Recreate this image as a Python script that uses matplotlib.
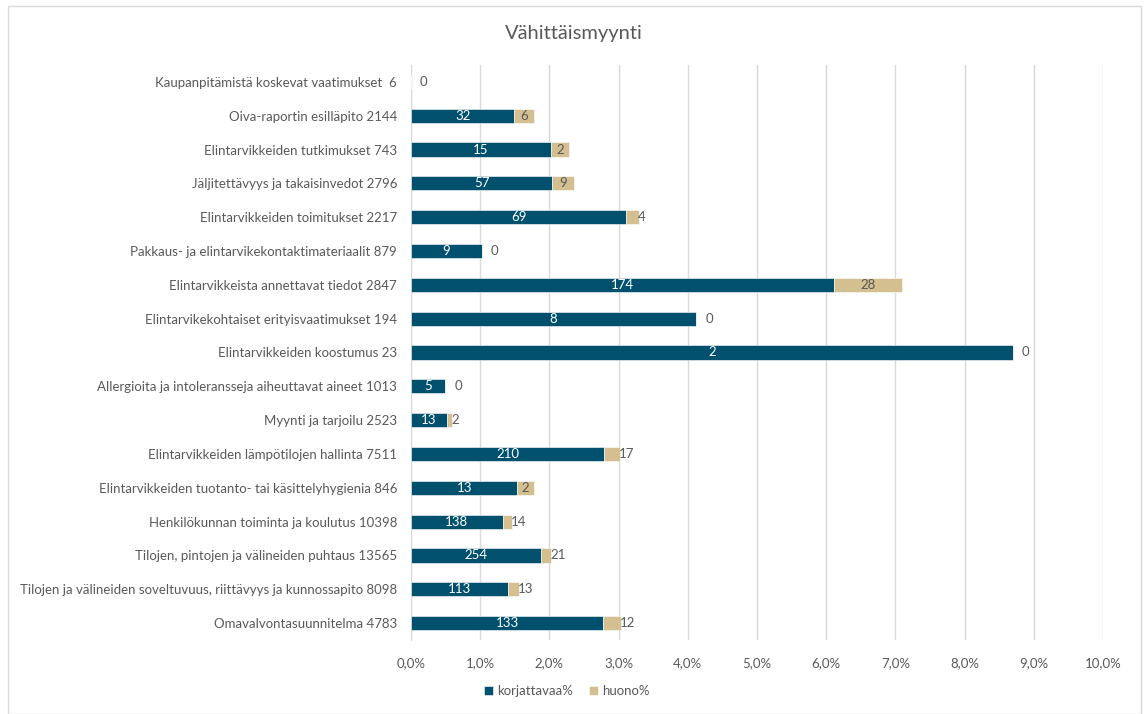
import matplotlib as mpl
mpl.use('Agg')
import matplotlib.pyplot as plt
import matplotlib.patches as patches
from matplotlib.ticker import FuncFormatter

#
#--- data: category name, number of inspections, counts per grade
#
categories = ['Kaupanpitämistä koskevat vaatimukset  6',
              'Oiva-raportin esilläpito 2144',
              'Elintarvikkeiden tutkimukset 743',
              'Jäljitettävyys ja takaisinvedot 2796',
              'Elintarvikkeiden toimitukset 2217',
              'Pakkaus- ja elintarvikekontaktimateriaalit 879',
              'Elintarvikkeista annettavat tiedot 2847',
              'Elintarvikekohtaiset erityisvaatimukset 194',
              'Elintarvikkeiden koostumus 23',
              'Allergioita ja intoleransseja aiheuttavat aineet 1013',
              'Myynti ja tarjoilu 2523',
              'Elintarvikkeiden lämpötilojen hallinta 7511',
              'Elintarvikkeiden tuotanto- tai käsittelyhygienia 846',
              'Henkilökunnan toiminta ja koulutus 10398',
              'Tilojen, pintojen ja välineiden puhtaus 13565',
              'Tilojen ja välineiden soveltuvuus, riittävyys ja kunnossapito 8098',
              'Omavalvontasuunnitelma 4783']
totals     = [6, 2144, 743, 2796, 2217, 879, 2847, 194, 23, 1013, 2523, 7511, 846, 10398, 13565, 8098, 4783]
korjattava = [0, 32, 15, 57, 69, 9, 174, 8, 2, 5, 13, 210, 13, 138, 254, 113, 133]
huono      = [None, 6, 2, 9, 4, 0, 28, 0, 0, 0, 2, 17, 2, 14, 21, 13, 12]

xticks = [0, 1, 2, 3, 4, 5, 6, 7, 8, 9, 10]

blue = '#00506E'
tan = '#D3BF8F'
gray = '#595959'
fnt = 'Lato'

kor_pct = [k / t * 100 for k, t in zip(korjattava, totals)]
huo_pct = [(h or 0) / t * 100 for h, t in zip(huono, totals)]

fig = plt.figure(figsize=(11.44, 7.14), dpi=100)
fig.patches.append(patches.Rectangle((8 / 1144, 0), 1133 / 1144, 1 - 6 / 714, transform=fig.transFigure,
                                     fill=False, edgecolor='#D9D9D9', lw=1))
ax = fig.add_axes([411 / 1144, 1 - 640 / 714, 692 / 1144, 575 / 714])

n = len(categories)
ypos = list(range(n))
h = 0.42
b1 = ax.barh(ypos, kor_pct, height=h, color=blue, edgecolor='white', lw=0.4, zorder=3)
b2 = ax.barh(ypos, huo_pct, left=kor_pct, height=h, color=tan, edgecolor='white', lw=0.4, zorder=3)

ax.set_xlim(0, 10)
ax.set_ylim(n - 0.5, -0.5)
px = 692 / 10.0   # pixels per percent

#
#--- data labels
#
for i in range(n):
    if kor_pct[i] > 0:
        ax.text(kor_pct[i] / 2, i, str(korjattava[i]), color='white', ha='center', va='center',
                fontsize=9.5, family=fnt, zorder=4)
        end = kor_pct[i] + huo_pct[i]
        lab = str(huono[i])
        if huono[i] == 0:
            ax.text(end + 9 / px, i, lab, color=gray, ha='left', va='center', fontsize=9.5, family=fnt, zorder=4)
        elif huo_pct[i] * px > 7 * len(lab) + 7:
            ax.text(kor_pct[i] + huo_pct[i] / 2, i, lab, color=gray, ha='center', va='center',
                    fontsize=9.5, family=fnt, zorder=4)
        else:
            ax.text(end - 1 / px, i, lab, color=gray, ha='left', va='center', fontsize=9.5, family=fnt, zorder=4)
    else:
        ax.text(9 / px, i, str(korjattava[i]), color=gray, ha='left', va='center', fontsize=9.5, family=fnt, zorder=4)

ax.set_yticks(ypos)
ax.set_yticklabels(categories, fontsize=9.5, color=gray, family=fnt)
ax.set_xticks(xticks)
ax.xaxis.set_major_formatter(FuncFormatter(lambda v, p: ('%.1f%%' % v).replace('.', ',')))
for lab in ax.get_xticklabels():
    lab.set_family(fnt)
ax.tick_params(axis='x', colors=gray, labelsize=9.5, length=0, pad=12)
ax.tick_params(axis='y', length=0, pad=10)

ax.grid(axis='x', color='#D9D9D9', lw=1, zorder=0)
for s in ['top', 'right', 'bottom']:
    ax.spines[s].set_visible(False)
ax.spines['left'].set_color('#D9D9D9')
ax.spines['left'].set_zorder(1)

fig.text(574 / 1144, 1 - 33 / 714, 'Vähittäismyynti', ha='center', va='center', fontsize=14.5, color=gray, family=fnt)

leg = fig.legend([b1, b2], ['korjattavaa%', 'huono%'], loc='center', bbox_to_anchor=(567 / 1144, 1 - 691 / 714),
                 ncol=2, frameon=False, handlelength=0.7, handleheight=0.7, handletextpad=0.3, columnspacing=1.2,
                 prop={'family': fnt, 'size': 9.5})
for t in leg.get_texts():
    t.set_color(gray)

plt.savefig('out.png', dpi=100)
